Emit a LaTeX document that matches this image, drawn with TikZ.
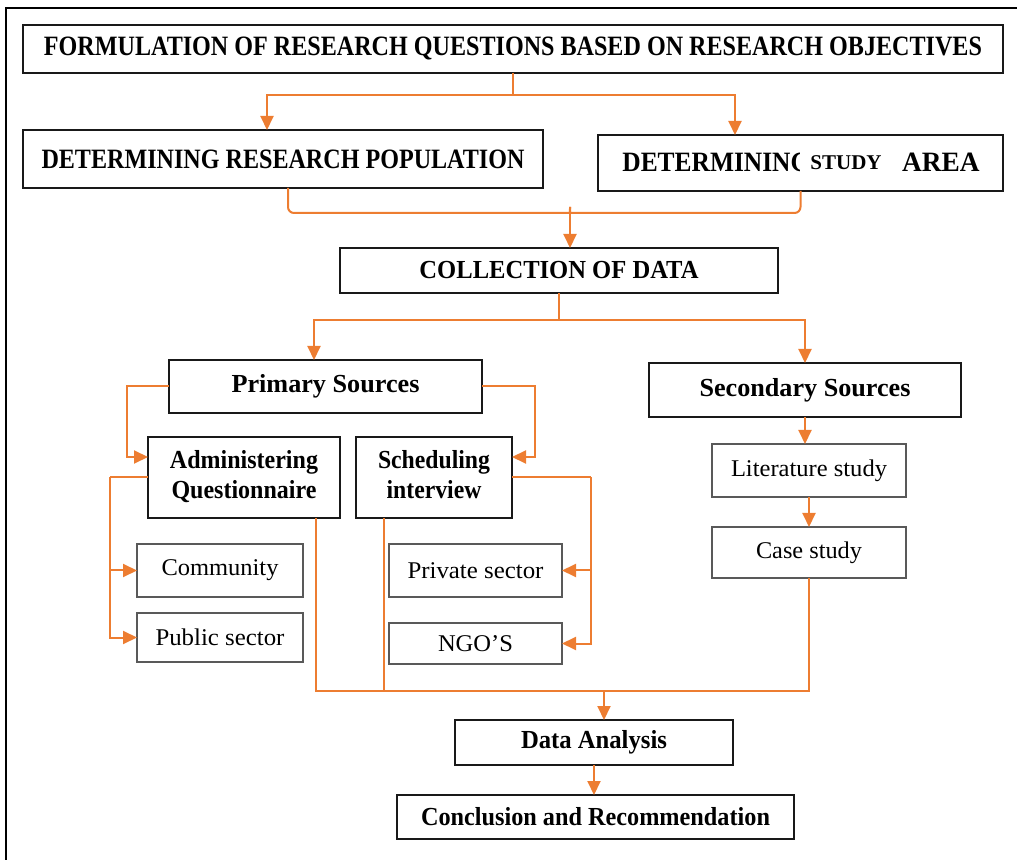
\documentclass[tikz,border=0pt]{standalone}
\usepackage{fontspec}
\setmainfont{Liberation Serif}
\usepackage{graphicx}
\usetikzlibrary{arrows.meta,calc}
\definecolor{orng}{HTML}{ED7D31}
\definecolor{subgray}{HTML}{595959}
\newcommand{\fw}[2]{\resizebox{#1}{\height}{#2}}
\begin{document}
\begin{tikzpicture}[x=0.5pt,y=-0.5pt,
 mbox/.style={draw=black!90, line width=1pt, inner sep=0pt, outer sep=0pt},
 sbox/.style={draw=subgray, line width=0.75pt, inner sep=0pt, outer sep=0pt},
 ol/.style={draw=orng, line width=1pt},
 oa/.style={ol, -{Triangle[length=7pt,width=6.5pt]}},
 capt/.style={font=\fontsize{14}{16}\selectfont\bfseries},
 bt/.style={font=\fontsize{13}{15}\selectfont\bfseries},
 rt/.style={font=\fontsize{12}{14}\selectfont}]
\useasboundingbox (0,0) rectangle (1017,860);
% outer frame
\draw[line width=1.3pt] (6,860) -- (6,8) -- (1017,8);

% boxes
\node[mbox, capt, minimum width=490pt, minimum height=24pt] (title) at (513,49)
  {\fw{469pt}{FORMULATION OF RESEARCH QUESTIONS BASED ON RESEARCH OBJECTIVES}};
\node[mbox, capt, minimum width=260pt, minimum height=29pt] (pop) at (283,159)
  {\fw{241.5pt}{DETERMINING RESEARCH POPULATION}};
\node[mbox, minimum width=202.5pt, minimum height=28pt] (area) at (800.5,163) {};
\begin{scope}
  \clip (600,137) rectangle (799,189);
  \node[capt, inner sep=0pt, anchor=west] (areaa) at (622,162) {\fw{94pt}{DETERMINING}};
\end{scope}
\node[inner sep=0pt, font=\fontsize{10.5}{12}\selectfont\bfseries] (studyw) at (846,163) {STUDY};
\begin{scope}
  \clip (897,137) rectangle (1000,189);
  \node[capt, inner sep=0pt, anchor=east] (areab) at (980,162) {\fw{41pt}{\,AREA}};
\end{scope}
\node[mbox, bt, minimum width=219pt, minimum height=22.5pt] (coll) at (559,270.5)
  {\fw{139.5pt}{COLLECTION OF DATA}};
\node[mbox, bt, minimum width=156.5pt, minimum height=26.5pt] (prim) at (325.5,386.5)
  {\fw{94pt}{Primary Sources}};
\node[mbox, bt, minimum width=156pt, minimum height=27pt] (sec) at (805,390)
  {\fw{105.5pt}{Secondary Sources}};
\node[mbox, bt, minimum width=96pt, minimum height=40.5pt] (admin) at (244,477.5)
  {\fw{74pt}{\begin{tabular}{@{}c@{}}Administering\\Questionnaire\end{tabular}}};
\node[mbox, bt, minimum width=78pt, minimum height=40.5pt] (sched) at (434,477.5)
  {\fw{56pt}{\begin{tabular}{@{}c@{}}Scheduling\\interview\end{tabular}}};
\node[sbox, rt, minimum width=83pt, minimum height=26.5pt] (comm) at (220,570.5)
  {\fw{58.5pt}{Community}};
\node[sbox, rt, minimum width=83pt, minimum height=24.5pt] (pub) at (220,637.5)
  {\fw{64.5pt}{Public sector}};
\node[sbox, rt, minimum width=86.5pt, minimum height=26.5pt] (priv) at (475.5,570.5)
  {\fw{68pt}{Private sector}};
\node[sbox, rt, minimum width=86.5pt, minimum height=20.5pt] (ngo) at (475.5,643.5)
  {\fw{37.5pt}{NGO’S}};
\node[sbox, rt, minimum width=97pt, minimum height=26.5pt] (lit) at (809,470.5)
  {\fw{78pt}{Literature study}};
\node[sbox, rt, minimum width=97pt, minimum height=25.5pt] (case) at (809,552.5)
  {\fw{53pt}{Case study}};
\node[mbox, bt, minimum width=139pt, minimum height=22.5pt] (da) at (594,742.5)
  {\fw{73pt}{Data Analysis}};
\node[mbox, bt, minimum width=198.5pt, minimum height=22pt] (conc) at (595.5,817)
  {\fw{174.5pt}{Conclusion and Recommendation}};

% connectors
\draw[ol] (title.south) -- ++(0,22) coordinate (t1);
\draw[oa] (t1) -| ([xshift=-8pt]pop.north);
\draw[oa] (t1) -| ([xshift=-32.75pt]area.north);

\coordinate (m) at (570,207);
\draw[ol, rounded corners=3pt] ([xshift=2.5pt]pop.south) |- (563,213) .. controls (570,213) .. (m);
\draw[ol, rounded corners=3pt] (area.south) |- (577,213) .. controls (570,213) .. (m);
\draw[oa] (m) -- ([xshift=5.5pt]coll.north);

\draw[ol] (coll.south) -- ++(0,27) coordinate (c1);
\draw[oa] (c1) -| ([xshift=-5.75pt]prim.north);
\draw[oa] (c1) -| (sec.north);

\draw[oa] (prim.west) -- ++(-42,0) |- ([yshift=10.25pt]admin.west);
\draw[oa] (prim.east) -- ++(53,0) |- ([yshift=10.25pt]sched.east);

\draw[ol] (admin.west) -- ++(-38,0) coordinate (a1);
\draw[oa] (a1) |- (comm.west);
\draw[oa] (a1) |- (pub.west);
\draw[ol] (sched.east) -- ++(79,0) coordinate (s1);
\draw[oa] (s1) |- (priv.east);
\draw[oa] (s1) |- (ngo.east);

\draw[oa] (sec.south) -- (sec.south |- lit.north);
\draw[oa] (lit.south) -- (case.north);

\coordinate (j) at (604,691);
\draw[ol] ([xshift=36pt]admin.south) |- (j);
\draw[ol] (case.south) |- (j);
\draw[ol] ([xshift=-25pt]sched.south) -- ([xshift=-25pt]sched.south |- j);
\draw[oa] (j) -- ([xshift=5pt]da.north);
\draw[oa] (da.south) -- (da.south |- conc.north);
\end{tikzpicture}
\end{document}
